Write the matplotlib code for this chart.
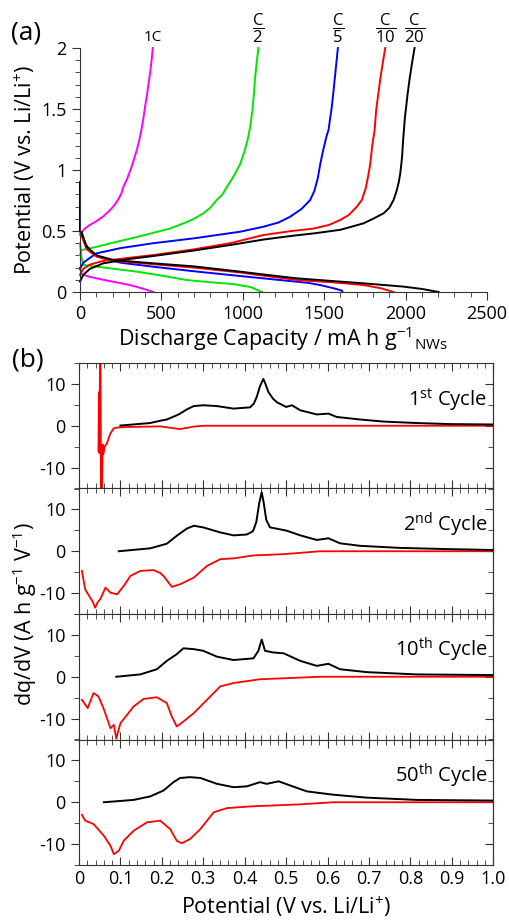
import matplotlib
matplotlib.use("Agg")
import matplotlib.pyplot as plt
from matplotlib.ticker import MultipleLocator, FuncFormatter

plt.rcParams['font.family'] = ['Open Sans', 'DejaVu Sans']
plt.rcParams['mathtext.fontset'] = 'custom'
plt.rcParams['mathtext.rm'] = 'Open Sans'
plt.rcParams['mathtext.it'] = 'Open Sans'
plt.rcParams['mathtext.bf'] = 'Open Sans'
plt.rcParams['axes.unicode_minus'] = False

# ---- (a) galvanostatic curves: capacity (mA h/g), potential (V) ----
rates = ['1C', r'$\dfrac{C}{2}$', r'$\dfrac{C}{5}$', r'$\dfrac{C}{10}$', r'$\dfrac{C}{20}$']
colors = ['#ff00ff', '#00e600', '#0000ff', '#ff0000', '#000000']

dis_cap_1c = [0, 10, 60, 143, 220, 307, 380, 451]
dis_v_1c = [0.2, 0.145, 0.125, 0.1, 0.08, 0.057, 0.03, 0.0]
chg_cap_1c = [0, 10, 30, 61, 100, 143, 184, 210, 236, 255, 266, 290, 310, 330, 348, 365, 380, 390, 400,
              412, 420, 430, 440, 447]
chg_v_1c = [0.47, 0.49, 0.52, 0.55, 0.58, 0.62, 0.67, 0.71, 0.76, 0.81, 0.86, 0.93, 1.0, 1.08, 1.16, 1.25,
            1.35, 1.43, 1.52, 1.62, 1.7, 1.79, 1.9, 2.0]

dis_cap_c2 = [0, 5, 12, 25, 61, 150, 348, 500, 656, 800, 943, 1050, 1117]
dis_v_c2 = [0.40, 0.33, 0.26, 0.22, 0.215, 0.2, 0.167, 0.135, 0.098, 0.08, 0.065, 0.04, 0.0]
chg_cap_c2 = [0, 10, 102, 220, 348, 450, 553, 650, 700, 758, 800, 840, 875, 902, 940, 984, 1010, 1030, 1045,
              1052, 1060, 1068, 1075, 1085, 1096]
chg_v_c2 = [0.3, 0.344, 0.37, 0.41, 0.45, 0.485, 0.52, 0.57, 0.6, 0.645, 0.69, 0.754, 0.8, 0.86, 0.94, 1.05,
            1.15, 1.25, 1.35, 1.42, 1.5, 1.62, 1.75, 1.88, 2.0]

dis_cap_c5 = [0, 10, 30, 61, 100, 143, 250, 451, 700, 983, 1229, 1400, 1475, 1560, 1609, 1613]
dis_v_c5 = [0.5, 0.48, 0.4, 0.344, 0.3, 0.276, 0.24, 0.207, 0.17, 0.131, 0.098, 0.075, 0.057, 0.03, 0.011, 0.0]
chg_cap_c5 = [0, 20, 61, 102, 250, 451, 700, 983, 1127, 1220, 1291, 1360, 1414, 1440, 1460, 1476, 1495,
              1515, 1527, 1536, 1545, 1555, 1565, 1575, 1584]
chg_v_c5 = [0.19, 0.24, 0.28, 0.317, 0.36, 0.40, 0.44, 0.494, 0.535, 0.57, 0.617, 0.68, 0.754, 0.83, 0.93,
            1.05, 1.17, 1.28, 1.33, 1.42, 1.5, 1.62, 1.75, 1.88, 2.0]

dis_cap_c10 = [0, 0, 10, 41, 102, 205, 451, 700, 983, 1150, 1332, 1550, 1742, 1850, 1926]
dis_v_c10 = [0.7, 0.5, 0.46, 0.35, 0.29, 0.255, 0.228, 0.2, 0.16, 0.13, 0.098, 0.08, 0.057, 0.03, 0.0]
chg_cap_c10 = [0, 20, 61, 143, 300, 451, 700, 922, 1127, 1300, 1434, 1530, 1598, 1650, 1701, 1731, 1755,
               1770, 1783, 1795, 1810, 1815, 1820, 1832, 1845, 1860, 1875]
chg_v_c10 = [0.14, 0.19, 0.225, 0.255, 0.28, 0.303, 0.35, 0.4, 0.467, 0.5, 0.52, 0.55, 0.59, 0.63, 0.7,
             0.754, 0.85, 0.95, 1.05, 1.2, 1.33, 1.42, 1.5, 1.62, 1.75, 1.88, 2.0]

dis_cap_c20 = [0, 0, 10, 41, 102, 205, 451, 700, 983, 1150, 1332, 1550, 1742, 1988, 2100, 2203]
dis_v_c20 = [0.9, 0.5, 0.49, 0.37, 0.30, 0.262, 0.235, 0.21, 0.167, 0.14, 0.112, 0.09, 0.071, 0.044,
             0.025, 0.0]
chg_cap_c20 = [0, 20, 61, 143, 300, 451, 700, 922, 1127, 1300, 1434, 1600, 1742, 1800, 1865, 1900, 1926,
               1945, 1958, 1967, 1978, 1985, 1990, 1995, 2002, 2012, 2025, 2040, 2055]
chg_v_c20 = [0.085, 0.14, 0.19, 0.235, 0.27, 0.295, 0.34, 0.385, 0.43, 0.46, 0.48, 0.51, 0.563, 0.6,
             0.645, 0.69, 0.754, 0.83, 0.9, 0.97, 1.1, 1.25, 1.33, 1.42, 1.5, 1.62, 1.75, 1.88, 2.0]

discharge = [(dis_cap_1c, dis_v_1c), (dis_cap_c2, dis_v_c2), (dis_cap_c5, dis_v_c5),
             (dis_cap_c10, dis_v_c10), (dis_cap_c20, dis_v_c20)]
charge = [(chg_cap_1c, chg_v_1c), (chg_cap_c2, chg_v_c2), (chg_cap_c5, chg_v_c5),
          (chg_cap_c10, chg_v_c10), (chg_cap_c20, chg_v_c20)]

# ---- (b) differential capacity: potential (V), dq/dV ----
cycles = ['1$^{\\mathrm{st}}$ Cycle', '2$^{\\mathrm{nd}}$ Cycle', '10$^{\\mathrm{th}}$ Cycle', '50$^{\\mathrm{th}}$ Cycle']

chg_v1 = [0.1, 0.172, 0.196, 0.212, 0.236, 0.244, 0.26, 0.277, 0.3, 0.333, 0.373, 0.413, 0.422, 0.429, 0.437,
          0.445, 0.45, 0.457, 0.468, 0.478, 0.5, 0.514, 0.534, 0.574, 0.602, 0.622, 0.678, 0.735, 0.815, 0.895, 1.0]
chg_q1 = [0.05, 0.65, 1.2, 1.5, 2.5, 2.9, 3.9, 4.7, 4.9, 4.7, 4.1, 4.4, 5.3, 6.9, 9.5,
          11.2, 10.0, 8.1, 6.5, 5.6, 4.5, 4.9, 3.7, 2.7, 2.9, 2.1, 1.5, 1.0, 0.65, 0.4, 0.3]
dis_v1 = [0.047, 0.048, 0.049, 0.051, 0.052, 0.053, 0.055, 0.057, 0.059, 0.062, 0.067, 0.075, 0.083, 0.09,
          0.116, 0.196, 0.244, 0.277, 0.3, 0.5, 1.0]
dis_q1 = [-6.0, 8.0, -6.5, 20.0, 20.0, -20.0, -20.0, -4.5, -6.8, -5.0, -4.3, -2.0, -0.7, -0.45,
          -0.3, -0.15, -0.8, -0.2, 0.0, 0.0, 0.0]

chg_v2 = [0.096, 0.172, 0.212, 0.236, 0.26, 0.277, 0.3, 0.341, 0.373, 0.405, 0.42, 0.428, 0.435, 0.441, 0.446,
          0.452, 0.461, 0.477, 0.502, 0.534, 0.574, 0.602, 0.63, 0.678, 0.775, 0.895, 1.0]
chg_q2 = [0.0, 0.7, 1.8, 3.7, 5.4, 6.1, 5.7, 4.5, 3.8, 4.0, 4.8, 7.0, 11.5, 14.1, 11.5,
          7.5, 5.7, 5.4, 4.9, 3.8, 2.7, 3.1, 1.9, 1.3, 0.8, 0.5, 0.3]
dis_v2 = [0.007, 0.015, 0.027, 0.033, 0.039, 0.045, 0.051, 0.064, 0.076, 0.092, 0.108, 0.124, 0.148, 0.18,
          0.196, 0.204, 0.224, 0.244, 0.277, 0.309, 0.341, 0.373, 0.421, 0.494, 0.582, 1.0]
dis_q2 = [-4.7, -9.1, -11.1, -12.0, -13.5, -12.2, -11.5, -8.7, -9.9, -10.3, -8.3, -5.9, -4.7, -4.5,
          -5.2, -5.9, -8.5, -7.9, -6.3, -3.5, -1.9, -1.7, -1.0, -0.7, 0.0, 0.0]

chg_v10 = [0.09, 0.148, 0.188, 0.212, 0.236, 0.252, 0.277, 0.3, 0.333, 0.373, 0.421, 0.433, 0.441, 0.449,
           0.469, 0.494, 0.534, 0.574, 0.602, 0.63, 0.695, 0.815, 1.0]
chg_q10 = [0.0, 0.56, 1.8, 3.8, 5.4, 6.8, 6.6, 6.2, 4.8, 4.0, 4.4, 6.2, 8.9, 6.2,
           5.8, 5.6, 3.8, 2.6, 3.1, 1.8, 1.1, 0.56, 0.4]
dis_v10 = [0.007, 0.021, 0.035, 0.047, 0.059, 0.076, 0.084, 0.09, 0.1, 0.132, 0.156, 0.188, 0.212, 0.224,
           0.236, 0.252, 0.277, 0.309, 0.341, 0.373, 0.437, 0.582, 1.0]
dis_q10 = [-5.5, -7.5, -3.9, -4.7, -7.5, -12.3, -11.5, -14.8, -11.1, -7.1, -5.3, -4.9, -6.3, -9.5,
           -11.9, -10.7, -8.7, -5.5, -2.3, -1.5, -0.6, 0.0, 0.0]

chg_v50 = [0.06, 0.132, 0.172, 0.204, 0.228, 0.244, 0.268, 0.293, 0.333, 0.373, 0.405, 0.437, 0.453, 0.482,
           0.51, 0.55, 0.614, 0.695, 0.815, 1.0]
chg_q50 = [0.0, 0.56, 1.4, 2.8, 4.8, 5.8, 6.0, 5.8, 4.4, 3.6, 3.8, 4.8, 4.4, 5.0,
           4.0, 2.6, 1.8, 1.1, 0.56, 0.4]
dis_v50 = [0.007, 0.015, 0.035, 0.06, 0.076, 0.084, 0.096, 0.108, 0.132, 0.164, 0.196, 0.22, 0.236, 0.248,
           0.268, 0.293, 0.325, 0.357, 0.413, 0.534, 0.614, 1.0]
dis_q50 = [-3.0, -4.4, -5.2, -8.0, -10.4, -12.4, -11.6, -9.2, -6.8, -4.8, -4.4, -6.4, -9.2, -9.8,
           -8.8, -6.4, -2.4, -1.4, -1.0, -0.5, 0.0, 0.0]

dqdv = [(chg_v1, chg_q1, dis_v1, dis_q1), (chg_v2, chg_q2, dis_v2, dis_q2),
        (chg_v10, chg_q10, dis_v10, dis_q10), (chg_v50, chg_q50, dis_v50, dis_q50)]

W, H = 509, 922
fig = plt.figure(figsize=(W / 100, H / 100), dpi=100)
axcol = '#333333'
tick_fs = 13

# panel (a)
axa = fig.add_axes([80 / W, 1 - 292 / H, 407 / W, 244 / H])
for (dc, dv), (cc, cv), col in zip(discharge, charge, colors):
    axa.plot(dc, dv, color=col, lw=1.4, clip_on=False)
    axa.plot(cc, cv, color=col, lw=1.4, clip_on=False)
axa.set_xlim(0, 2500)
axa.set_ylim(0, 2)
axa.spines['top'].set_visible(False)
axa.spines['right'].set_visible(False)
for s in ['left', 'bottom']:
    axa.spines[s].set_color(axcol)
axa.xaxis.set_major_locator(MultipleLocator(500))
axa.xaxis.set_minor_locator(MultipleLocator(100))
axa.yaxis.set_major_locator(MultipleLocator(0.5))
axa.yaxis.set_minor_locator(MultipleLocator(0.1))
axa.yaxis.set_major_formatter(FuncFormatter(lambda v, p: '%g' % v))
axa.tick_params(which='both', direction='out', colors=axcol, labelcolor='black', labelsize=tick_fs)
axa.tick_params(which='major', length=6)
axa.tick_params(which='minor', length=3.5)
axa.set_xlabel(r'Discharge Capacity / mA h g$^{\mathrm{-1}}$$_{\mathrm{NWs}}$', fontsize=15.5, labelpad=1)
axa.set_ylabel(r'Potential (V vs. Li/Li$^{+}$)', fontsize=15.5, labelpad=3)

# rate labels above charge curve ends
for (cc, cv), lab in zip(charge, rates):
    fs = 11 if lab == '1C' else 12
    axa.annotate(lab, (cc[-1], cv[-1]), xytext=(0, 2), textcoords='offset points',
                 ha='center', va='bottom', fontsize=fs, annotation_clip=False)

fig.text(11 / W, 1 - 33 / H, '(a)', fontsize=19, va='center', ha='left')
fig.text(12 / W, 1 - 360 / H, '(b)', fontsize=19, va='center', ha='left')

# panel (b)
top, bot = 363, 865
ph = (bot - top) / 4
axes_b = []
for i, ((cv_, cq_, dv_, dq_), lab) in enumerate(zip(dqdv, cycles)):
    y0 = 1 - (top + (i + 1) * ph) / H
    ax = fig.add_axes([79 / W, y0, 414.3 / W, ph / H])
    ax.plot(dv_, dq_, color='#ff0000', lw=1.3)
    ax.plot(cv_, cq_, color='black', lw=1.4)
    ax.set_xlim(0, 1.0)
    ax.set_ylim(-15, 15)
    for s in ax.spines.values():
        s.set_color(axcol)
    ax.xaxis.set_major_locator(MultipleLocator(0.1))
    ax.xaxis.set_minor_locator(MultipleLocator(0.02))
    ax.set_yticks([-10, 0, 10])
    ax.yaxis.set_minor_locator(MultipleLocator(5))
    ax.tick_params(axis='x', which='both', direction='in', top=True, bottom=True, colors=axcol,
                   labelcolor='black', labelsize=tick_fs, labelbottom=(i == 3))
    ax.tick_params(axis='y', which='both', direction='out', colors=axcol, labelcolor='black', labelsize=tick_fs)
    ax.tick_params(which='major', length=6)
    ax.tick_params(which='minor', length=3.5)
    sec = ax.secondary_yaxis('right')
    sec.set_yticks([-10, 0, 10])
    sec.yaxis.set_minor_locator(MultipleLocator(5))
    sec.tick_params(which='both', direction='in', colors=axcol, labelright=False)
    sec.tick_params(which='major', length=6)
    sec.tick_params(which='minor', length=3.5)
    sec.spines['right'].set_color(axcol)
    ax.text(0.985, 6.3, lab, ha='right', va='center', fontsize=14.5)
    axes_b.append(ax)

axes_b[3].xaxis.set_major_formatter(FuncFormatter(lambda v, p: '0' if abs(v) < 1e-9 else '%.1f' % v))
axes_b[3].set_xlabel(r'Potential (V vs. Li/Li$^{+}$)', fontsize=15.5, labelpad=5)
fig.text(25 / W, 1 - 614 / H, r'dq/dV (A h g$^{\mathrm{-1}}$ V$^{\mathrm{-1}}$)', rotation=90,
         fontsize=15.5, ha='center', va='center')

fig.savefig('out.png', dpi=100)
